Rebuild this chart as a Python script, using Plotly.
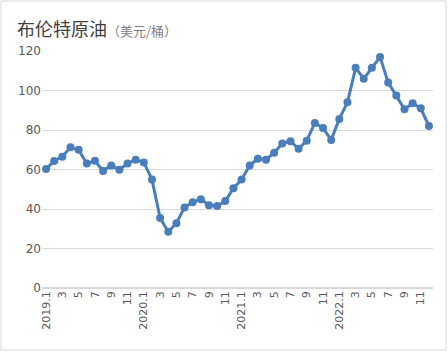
import plotly.graph_objects as go

months = [f"{y}.{m}" for y in range(2019, 2023) for m in range(1, 13)]
prices = [60.2, 64.3, 66.5, 71.3, 70.0, 63.0, 64.4, 59.3, 62.0, 59.9, 63.0, 65.0,
          63.6, 55.0, 35.5, 28.5, 32.8, 40.8, 43.4, 45.0, 41.9, 41.5, 44.0, 50.5,
          54.9, 62.0, 65.5, 65.0, 68.5, 73.2, 74.3, 70.5, 74.6, 83.6, 81.0, 75.0,
          85.6, 94.0, 111.5, 106.0, 111.5, 117.0, 104.0, 97.5, 90.5, 93.5, 91.0, 82.0]
tick_vals = [months[i] for i in range(0, 48, 2)]
tick_text = [m if m.endswith(".1") else m.split(".")[1] for m in tick_vals]

fig = go.Figure()
fig.add_trace(go.Scatter(
    x=months, y=prices, mode="lines+markers",
    line=dict(color="#4a7ebb", width=3),
    marker=dict(color="#4a7ebb", size=8),
))

W, H = 448, 352
L, R, T, B = 42, 15, 51, 64
pw, ph = W - L - R, H - T - B

fig.update_layout(
    width=W, height=H,
    margin=dict(l=L, r=R, t=T, b=B),
    paper_bgcolor="white", plot_bgcolor="white",
    showlegend=False,
    font=dict(family="DejaVu Sans, Noto Sans CJK SC", size=11, color="#595959"),
    xaxis=dict(type="category", range=[-0.5, 47.5], tickmode="array",
               tickvals=tick_vals, ticktext=tick_text, tickangle=-90,
               showgrid=False, zeroline=False, showline=False, ticks="",
               tickfont=dict(size=11, color="#595959")),
    yaxis=dict(range=[0, 120], dtick=20, showgrid=True, gridcolor="#d9d9d9",
               gridwidth=1, zeroline=True, zerolinecolor="#d9d9d9", showline=False,
               ticks="", tickfont=dict(size=12, color="#595959")),
    shapes=[dict(type="rect", xref="paper", yref="paper",
                 x0=(1 - L) / pw, x1=(W - 2 - L) / pw,
                 y0=(T + ph - (H - 2)) / ph, y1=(T + ph - 1) / ph,
                 line=dict(color="#d9d9d9", width=1), layer="below")],
    annotations=[dict(
        xref="paper", yref="paper", x=(15 - L) / pw, y=(T + ph - 13) / ph,
        xanchor="left", yanchor="top", showarrow=False,
        text='布伦特原油<span style="font-size:13px;color:#7f7f7f">（美元/桶）</span>',
        font=dict(family="Noto Sans CJK SC", size=18, color="#404040"))],
)

fig.write_html("out.html")
